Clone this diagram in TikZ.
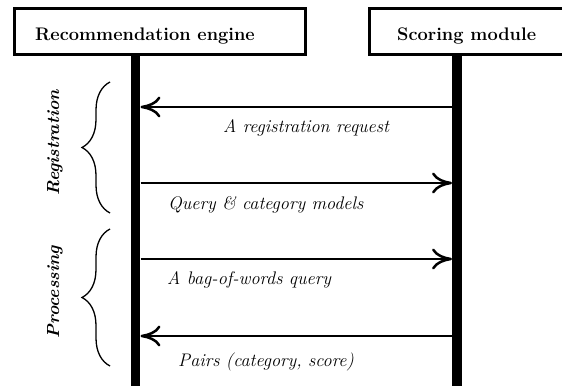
\documentclass[tikz,border=0pt]{standalone}
\usetikzlibrary{arrows.meta,decorations.pathreplacing}
\begin{document}
\begin{tikzpicture}[x=1pt,y=-1pt,
  hdr/.style={anchor=base west,font=\fontsize{18.2}{21}\selectfont\bfseries,inner sep=0pt},
  msg/.style={anchor=base west,font=\fontsize{18.2}{21}\selectfont\itshape,inner sep=0pt},
  phase/.style={rotate=90,font=\fontsize{17.5}{20}\selectfont\bfseries\itshape,inner sep=0pt},
  actor/.style={draw,line width=3pt},
  lifeline/.style={line width=9.5pt},
  msgarrow/.style={line width=2.5pt,-{Computer Modern Rightarrow[length=20pt,width=21pt,line width=2.5pt]}},
  phasebrace/.style={decorate,decoration={brace,amplitude=28pt},line width=1.3pt}]
\useasboundingbox (0,0) rectangle (562,387);
\clip (0,0) rectangle (562,387);
% actor boxes
\draw[actor] (14.5,8.5) rectangle (305.5,54.5);
\draw[actor] (369.5,8.5) rectangle (585,54.5);
\node[hdr] (re) at (35,41) {Recommendation engine};
\node[hdr] (sm) at (397,41) {Scoring module};
% lifelines
\coordinate (lt) at (135.5,56);
\coordinate (lb) at (135.5,386);
\coordinate (rt) at (457,56);
\coordinate (rb) at (457,386);
\draw[lifeline] (lt) -- (lb);
\draw[lifeline] (rt) -- (rb);
% message end points
\coordinate (r1) at (452,107);  \coordinate (l1) at (140.5,107);
\coordinate (l2) at (140.5,183); \coordinate (r2) at (452,183);
\coordinate (l3) at (140.5,259); \coordinate (r3) at (452,259);
\coordinate (r4) at (452,336);  \coordinate (l4) at (140.5,336);
\draw[msgarrow] (r1) -- (l1);
\draw[msgarrow] (l2) -- (r2);
\draw[msgarrow] (l3) -- (r3);
\draw[msgarrow] (r4) -- (l4);
\node[msg] (m1) at (223,133) {A registration request};
\node[msg] (m2) at (168,210) {Query \& category models};
\node[msg] (m3) at (167,285) {A bag-of-words query};
\node[msg] (m4) at (178,366) {Pairs (category, score)};
% braces
\coordinate (b1b) at (110,213); \coordinate (b1t) at (110,82);
\coordinate (b2b) at (110,366); \coordinate (b2t) at (110,229);
\draw[phasebrace] (b1b) -- (b1t);
\draw[phasebrace] (b2b) -- (b2t);
\node[phase] (reg) at (55,143) {Registration};
\node[phase] (proc) at (55,292) {Processing};
\end{tikzpicture}
\end{document}
